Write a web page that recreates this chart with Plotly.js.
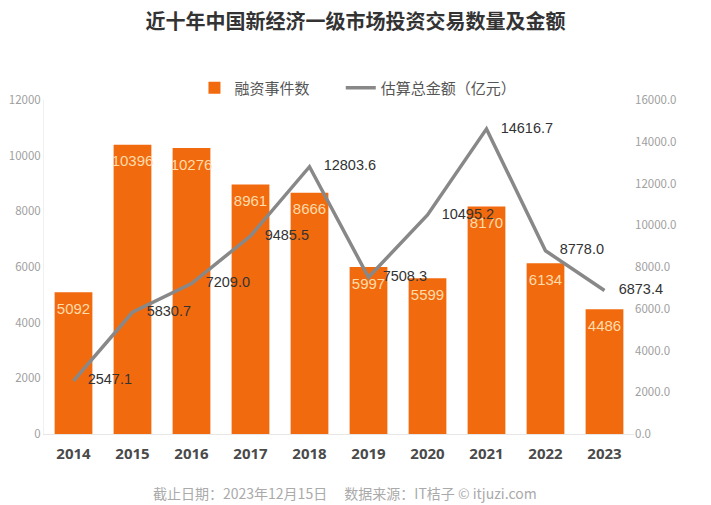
<!DOCTYPE html>
<html><head><meta charset="utf-8">
<script src="https://cdn.plot.ly/plotly-3.0.1.min.js"></script>
<style>body{margin:0;background:#fff}#chart{width:711px;height:505px}</style>
</head><body><div id="chart"></div>
<script>
var years = ["2014","2015","2016","2017","2018","2019","2020","2021","2022","2023"];
var dealCounts = [5092,10396,10276,8961,8666,5997,5599,8170,6134,4486];
var amounts = [2547.1,5830.7,7209.0,9485.5,12803.6,7508.3,10495.2,14616.7,8778.0,6873.4];
var amountLabels = ["2547.1","5830.7","7209.0","9485.5","12803.6","7508.3","10495.2","14616.7","8778.0","6873.4"];
var cjk = "Noto Sans CJK SC, Noto Sans, sans-serif";
var num = "Liberation Sans, Arial, sans-serif";

var bars = {
  type:"bar", x:years, y:dealCounts, name:"融资事件数", legend:"legend",
  marker:{color:"#F26A0E"}, hoverinfo:"skip"
};
var barLabels = {
  type:"scatter", mode:"markers+text", x:years, y:dealCounts, showlegend:false, hoverinfo:"skip",
  marker:{size:15, color:"rgba(0,0,0,0)"},
  text:dealCounts.map(String), textposition:"bottom center",
  textfont:{color:"#FFDCAA", size:15, family:num}
};
var line = {
  type:"scatter", mode:"lines+markers+text", x:years, y:amounts, yaxis:"y2", name:"估算总金额（亿元）", legend:"legend2",
  line:{color:"#888888", width:3.5},
  marker:{size:21, color:"rgba(0,0,0,0)"},
  text:amountLabels, textposition:"middle right",
  textfont:{color:"#333333", size:14.5, family:num},
  cliponaxis:false, hoverinfo:"skip"
};
var legendFont = {size:15, color:"#555", family:cjk};
var layout = {
  width:711, height:505,
  margin:{l:44, r:77, t:100, b:71},
  paper_bgcolor:"#ffffff", plot_bgcolor:"#ffffff",
  font:{family:cjk, color:"#333"},
  title:{text:"<b>近十年中国新经济一级市场投资交易数量及金额</b>", xref:"container", x:0.5, xanchor:"center", yref:"container", y:0.956, yanchor:"middle", font:{size:20, color:"#333333", family:cjk}},
  bargap:0.36,
  showlegend:true,
  legend:{orientation:"h", x:0.255, xanchor:"left", y:1.036, yanchor:"middle", font:legendFont},
  legend2:{orientation:"h", x:0.503, xanchor:"left", y:1.036, yanchor:"middle", font:legendFont},
  xaxis:{type:"category", range:[-0.5,9.5], autorange:false, showgrid:false, showline:true, linecolor:"#e6e6e6", ticks:"", ticklabelstandoff:6,
         tickfont:{size:15, color:"#4a4a4a", family:"Noto Sans, sans-serif", weight:"bold"}},
  yaxis:{range:[0,12000], dtick:2000, showgrid:false, zeroline:false, showline:true, linecolor:"#f0f0f0",
         tickfont:{size:11.5, color:"#a0a0a0", family:cjk}, ticks:"", tickformat:"d"},
  yaxis2:{range:[0,16000], dtick:2000, overlaying:"y", side:"right", showgrid:false, zeroline:false,
          tickfont:{size:11.5, color:"#a0a0a0", family:cjk}, tickformat:".1f", ticks:""},
  annotations:[{text:"截止日期：2023年12月15日　 数据来源：IT桔子 © itjuzi.com", xref:"paper", yref:"paper",
    x:0.51, y:-0.177, xanchor:"center", yanchor:"middle", showarrow:false, font:{size:14, color:"#aaaaaa", family:cjk}}]
};
Plotly.newPlot("chart",[bars,line,barLabels],layout,{displayModeBar:false,staticPlot:true});
</script></body></html>
